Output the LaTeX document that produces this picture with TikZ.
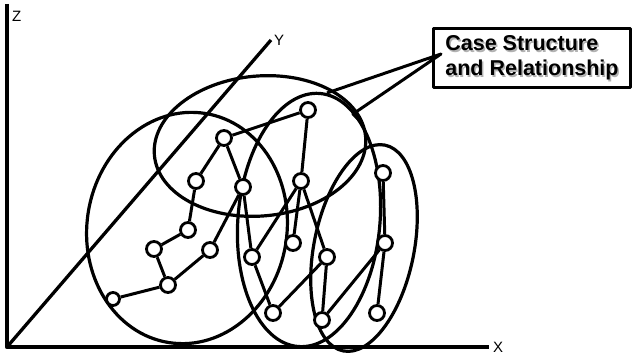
\documentclass[tikz,border=0pt]{standalone}
\usepackage{fontspec}
\setmainfont{Liberation Sans}
\usetikzlibrary{positioning}

\begin{document}
\begin{tikzpicture}[x=1pt,y=-1pt,line join=round,
  case/.style={circle,draw,fill=white,line width=2.8pt,minimum size=15pt,inner sep=0pt},
  link/.style={line width=3pt},
  group/.style={line width=3.2pt},
  axis/.style={line width=4.2pt},
  axislabel/.style={font=\fontsize{15}{15}\selectfont,inner sep=1pt},
  notebox/.style={draw,line width=3.8pt,minimum width=197pt,minimum height=59pt,
    align=left,font=\bfseries\fontsize{21.5}{25}\selectfont}]
\useasboundingbox (0,0) rectangle (633,358);

% axes
\coordinate (o) at (7,347);
\coordinate (zend) at (7,4);
\coordinate (xend) at (489,347);
\coordinate (yend) at (271,40);
\draw[axis] (zend) -- (o) -- (xend);
\draw[link,line width=3.3pt] (o) -- (yend);
\node[axislabel,anchor=north west] (zlab) at (11,10) {Z};
\node[axislabel,right=3pt of xend] (xlab) {X};
\node[axislabel,right=2pt of yend] (ylab) {Y};

% groups of cases
\draw[group,rotate around={-9:(187,228)}] (187,228) ellipse (100 and 116);
\draw[group,rotate around={5:(260,146)}] (260,146) ellipse (106 and 70);
\draw[group,rotate around={-5:(309,220)}] (309,220) ellipse (71 and 127);
\draw[group,rotate around={-11.5:(364,248)}] (364,248) ellipse (50 and 105);

% left tree
\node[case] (a1) at (224,138) {};
\node[case] (a2) at (196,181) {};
\node[case] (a3) at (243,187) {};
\node[case] (a4) at (188,230) {};
\node[case] (a5) at (154,249) {};
\node[case] (a6) at (210,250) {};
\node[case] (a7) at (168,285) {};
\node[case,minimum size=13pt] (a8) at (113,299) {};
% middle tree
\node[case] (b1) at (308,110) {};
\node[case] (b2) at (301,181) {};
\node[case] (b3) at (252,257) {};
\node[case] (b4) at (293,243) {};
\node[case] (b5) at (327,257) {};
\node[case] (b6) at (273,313) {};
\node[case] (b7) at (322,320) {};
% right chain
\node[case] (c1) at (383,173) {};
\node[case] (c2) at (385,243) {};
\node[case] (c3) at (377,313) {};

\draw[link] (a1) -- (a2) (a1) -- (a3) (a1) -- (b1)
  (a2) -- (a4) (a4) -- (a5) (a5) -- (a7) (a7) -- (a8)
  (a7) -- (a6) (a6) -- (a3) (a3) -- (b3);
\draw[link] (b1) -- (b2) (b2) -- (b3) (b2) -- (b4) (b2) -- (b5)
  (b3) -- (b6) (b6) -- (b5) (b5) -- (b7) (b7) -- (c2);
\draw[link] (c1) -- (c2) (c2) -- (c3);

% callout
\node[notebox,draw=none,text=black!30] (noteshade) at (533.5,59.5) {Case Structure\\and Relationship};
\node[notebox] (note) at (532,58) {Case Structure\\and Relationship};
\coordinate (tip) at (441,54);
\coordinate (topgrp) at (327,93);
\coordinate (midgrp) at (353,114);
\coordinate (midrim) at (361,122);
\draw[link] (topgrp) -- (tip) -- (midgrp) -- (midrim);
\end{tikzpicture}
\end{document}
